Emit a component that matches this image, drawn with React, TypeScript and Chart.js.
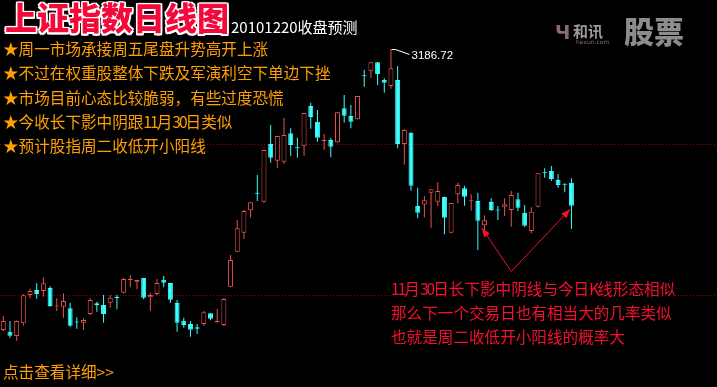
import React, { useEffect, useRef } from "react";
import { Chart, registerables } from "chart.js";
Chart.register(...registerables);

const W = 717;
const H = 387;

// ---- data: Shanghai Composite daily OHLC (last = 2010-12-20) ----
const opens = [
  2591.0, 2587.4, 2578.3, 2605.2, 2665.2, 2675.8, 2673.7, 2680.0, 2640.8, 2640.4,
  2637.0, 2609.0, 2606.5, 2624.9, 2647.6, 2644.0, 2648.9, 2661.6, 2670.1, 2697.0,
  2692.1, 2701.2, 2660.3, 2667.3, 2697.6, 2690.6, 2648.2, 2610.7, 2603.7, 2596.7,
  2603.7, 2626.4, 2608.0, 2601.6, 2682.8, 2757.0, 2797.3, 2844.8, 2881.9, 2863.0,
  2985.3, 2949.9, 2947.8, 3008.0, 2978.5, 2981.7, 3065.9, 3032.6, 2991.0, 2993.8,
  2988.9, 3061.0, 3044.7, 3037.7, 3131.2, 3140.7, 3158.5, 3121.0, 3108.3, 3121.0,
  2985.3, 3009.3, 2853.9, 2857.1, 2882.1, 2863.0, 2873.0, 2797.3, 2878.7, 2891.4,
  2864.1, 2864.5, 2813.0, 2862.4, 2846.5, 2852.4, 2845.4, 2868.1, 2839.7, 2800.9,
  2852.4, 2925.5, 2928.1, 2909.0, 2900.9, 2903.3,
];
const highs = [
  2620.7, 2610.1, 2611.0, 2667.3, 2678.6, 2690.0, 2702.7, 2683.6, 2658.2, 2668.8,
  2648.9, 2617.9, 2615.8, 2658.2, 2651.0, 2665.2, 2664.6, 2665.2, 2701.9, 2707.6,
  2697.5, 2701.5, 2670.1, 2699.1, 2705.5, 2691.0, 2654.6, 2617.1, 2610.1, 2603.7,
  2631.3, 2627.0, 2635.5, 2658.2, 2750.0, 2824.2, 2845.4, 2862.0, 2919.6, 2973.0,
  3025.6, 3003.0, 3041.1, 3018.6, 2998.7, 3051.5, 3072.9, 3057.4, 3006.5, 2998.0,
  3053.0, 3089.2, 3068.0, 3087.5, 3142.2, 3159.0, 3159.0, 3124.6, 3186.72, 3150.7,
  3016.5, 3010.0, 2892.7, 2875.1, 2889.5, 2904.1, 2873.5, 2860.5, 2903.3, 2896.3,
  2878.7, 2882.1, 2834.2, 2870.2, 2853.9, 2870.2, 2885.7, 2882.1, 2856.0, 2851.1,
  2923.5, 2933.8, 2938.7, 2921.1, 2902.0, 2912.6,
];
const lows = [
  2588.9, 2574.7, 2568.3, 2600.1, 2658.2, 2657.4, 2661.6, 2640.4, 2631.3, 2617.1,
  2598.0, 2593.8, 2591.0, 2622.8, 2629.8, 2606.5, 2638.3, 2634.9, 2668.8, 2681.5,
  2677.3, 2656.1, 2631.9, 2664.6, 2681.5, 2648.9, 2587.4, 2595.9, 2576.8, 2582.5,
  2600.1, 2611.6, 2606.5, 2599.5, 2681.5, 2756.4, 2783.9, 2829.1, 2864.5, 2860.9,
  2945.7, 2933.8, 2942.9, 2959.9, 2956.3, 2960.5, 3017.8, 2990.2, 2972.6, 2957.1,
  2988.0, 3030.5, 3018.6, 3037.0, 3106.8, 3124.6, 3110.4, 3094.1, 3102.6, 2976.2,
  2941.4, 2886.3, 2827.8, 2829.5, 2807.9, 2853.9, 2793.9, 2796.7, 2859.6, 2854.5,
  2843.9, 2760.6, 2803.0, 2843.3, 2824.2, 2832.7, 2810.0, 2843.3, 2810.0, 2796.0,
  2851.1, 2913.9, 2906.9, 2892.7, 2882.9, 2805.1,
];
const closes = [
  2610.1, 2578.9, 2610.1, 2664.6, 2673.7, 2667.3, 2690.0, 2641.9, 2642.9, 2652.5,
  2600.1, 2606.9, 2612.2, 2654.6, 2643.4, 2624.9, 2659.5, 2658.8, 2699.1, 2699.1,
  2697.0, 2659.5, 2665.2, 2690.6, 2691.3, 2655.2, 2606.5, 2601.6, 2591.6, 2593.8,
  2628.5, 2615.0, 2610.7, 2656.7, 2739.4, 2806.6, 2843.3, 2861.7, 2879.7, 2972.6,
  2956.3, 3002.3, 3004.4, 2983.2, 2976.4, 3051.0, 3042.6, 2998.7, 2993.8, 2979.6,
  3052.5, 3045.3, 3032.6, 3087.1, 3129.1, 3158.5, 3133.7, 3115.3, 3145.8, 2985.3,
  3015.0, 2896.9, 2839.7, 2866.2, 2889.3, 2885.7, 2829.1, 2860.2, 2898.4, 2873.6,
  2866.2, 2822.7, 2823.6, 2845.4, 2844.3, 2857.5, 2877.2, 2850.3, 2812.1, 2841.8,
  2923.2, 2923.4, 2911.1, 2898.4, 2898.8, 2854.5,
];
const dayIndex = opens.map((_, i) => i);

// reference dotted levels
const levels = [2985, 2665];
// arrow annotation (index, value)
const arrowApex = { i: 76, v: 2715 };
const arrowTips = [
  { i: 71.6, v: 2807 },
  { i: 84.8, v: 2847 },
];

// ---- texts ----
const titleText = "上证指数日线图";
const subtitleText = "20101220收盘预测";
const bullets = [
  "周一市场承接周五尾盘升势高开上涨",
  "不过在权重股整体下跌及军演利空下单边下挫",
  "市场目前心态比较脆弱，有些过度恐慌",
  "今收长下影中阴跟11月30日类似",
  "预计股指周二收低开小阳线",
];
const notes = [
  "11月30日长下影中阴线与今日K线形态相似",
  "那么下一个交易日也有相当大的几率类似",
  "也就是周二收低开小阳线的概率大",
];
const linkText = "点击查看详细>>";

const UP = "#e65252";
const DOWN = "#3cffff";
const ORANGE = "#ffa000";
const NOTE_RED = "#f51030";
const CJK = "'Noto Sans CJK SC', 'Noto Sans', sans-serif";

const overlayPlugin = {
  id: "overlay",
  beforeDatasetsDraw(chart: any) {
    const { ctx, scales } = chart;
    const y = scales.y;
    ctx.save();
    ctx.strokeStyle = "#9a0000";
    ctx.lineWidth = 1;
    ctx.setLineDash([1, 2]);
    levels.forEach((v) => {
      const py = Math.round(y.getPixelForValue(v)) + 0.5;
      ctx.beginPath();
      ctx.moveTo(0, py);
      ctx.lineTo(W, py);
      ctx.stroke();
    });
    ctx.restore();
  },
  afterDatasetsDraw(chart: any) {
    const { ctx, scales } = chart;
    const x = scales.x;
    const y = scales.y;
    ctx.save();
    // peak label
    let pi = 0;
    highs.forEach((h, i) => {
      if (h > highs[pi]) pi = i;
    });
    const px = Math.round(x.getPixelForValue(pi)) + 0.5;
    const py = Math.round(y.getPixelForValue(highs[pi])) + 0.5;
    ctx.strokeStyle = "#ffffff";
    ctx.lineWidth = 1;
    ctx.beginPath();
    ctx.moveTo(px, py);
    ctx.lineTo(px + 4, py);
    ctx.lineTo(px + 18, py + 5);
    ctx.stroke();
    ctx.fillStyle = "#ffffff";
    ctx.font = "11.5px 'Liberation Sans', sans-serif";
    ctx.textBaseline = "middle";
    ctx.fillText(highs[pi].toFixed(2), px + 20, py + 6);

    // arrows
    ctx.strokeStyle = NOTE_RED;
    ctx.fillStyle = NOTE_RED;
    const ax = x.getPixelForValue(arrowApex.i);
    const ay = y.getPixelForValue(arrowApex.v);
    arrowTips.forEach((t) => {
      const tx = x.getPixelForValue(t.i);
      const ty = y.getPixelForValue(t.v);
      ctx.beginPath();
      ctx.moveTo(ax, ay);
      ctx.lineTo(tx, ty);
      ctx.stroke();
      const ang = Math.atan2(ty - ay, tx - ax);
      const len = 9;
      const hw = 3.5;
      const bx = tx - len * Math.cos(ang);
      const by = ty - len * Math.sin(ang);
      ctx.beginPath();
      ctx.moveTo(tx, ty);
      ctx.lineTo(bx + hw * Math.sin(ang), by - hw * Math.cos(ang));
      ctx.lineTo(bx - hw * Math.sin(ang), by + hw * Math.cos(ang));
      ctx.closePath();
      ctx.fill();
    });
    ctx.restore();
  },
};

// narrow ASCII runs so half-width characters match the bitmap font width
function narrow(s: string) {
  const parts = s.split(/([\x21-\x7e]+)/);
  return parts.map((p, i) =>
    /^[\x21-\x7e]+$/.test(p) ? (
      <span key={i} style={{ letterSpacing: "-2px" }}>
        {p}
      </span>
    ) : (
      p
    )
  );
}

function Txt(props: {
  x: number;
  cy: number;
  size: number;
  color: string;
  weight?: number;
  family?: string;
  bg?: string;
  style?: any;
  children: any;
}) {
  const { x, cy, size, color, weight = 400, family = CJK, bg = "#000", style = {} } = props;
  return (
    <div
      style={{
        position: "absolute",
        left: x,
        top: cy - size * 0.566,
        fontSize: size,
        lineHeight: size + "px",
        height: size,
        color,
        fontWeight: weight,
        fontFamily: family,
        whiteSpace: "nowrap",
        background: bg,
        ...style,
      }}
    >
      {props.children}
    </div>
  );
}

export default function App() {
  const ref = useRef<HTMLCanvasElement | null>(null);

  useEffect(() => {
    if (!ref.current) return;
    const isUp = closes.map((c, i) => c >= opens[i]);
    const chart = new Chart(ref.current, {
      type: "bar",
      data: {
        datasets: [
          {
            label: "body",
            data: dayIndex.map((i) => ({ x: i, y: [opens[i], closes[i]] })) as any,
            backgroundColor: isUp.map((u) => (u ? "#000000" : DOWN)),
            borderColor: isUp.map((u) => (u ? UP : DOWN)),
            borderWidth: 1,
            borderSkipped: false,
            barThickness: 5,
            grouped: false,
            inflateAmount: 0,
          } as any,
          {
            label: "wick",
            data: dayIndex.map((i) => ({ x: i, y: [lows[i], highs[i]] })) as any,
            backgroundColor: isUp.map((u) => (u ? UP : DOWN)),
            borderWidth: 0,
            barThickness: 1,
            grouped: false,
            inflateAmount: 0,
          } as any,
        ],
      },
      options: {
        animation: false,
        responsive: false,
        maintainAspectRatio: false,
        layout: { padding: 0 },
        plugins: { legend: { display: false }, tooltip: { enabled: false }, title: { display: false } },
        scales: {
          x: { type: "linear", min: -0.494, max: 106.78, display: false, offset: false },
          y: { type: "linear", min: 2470.16, max: 3290.6, display: false },
        },
      },
      plugins: [overlayPlugin],
    });
    return () => chart.destroy();
  }, []);

  const titleShadow = [
    "0 0 3px #fff",
    "1.5px 0 0 #fff",
    "-1.5px 0 0 #fff",
    "0 1.5px 0 #fff",
    "0 -1.5px 0 #fff",
    "1.5px 1.5px 0 #fff",
    "-1.5px -1.5px 0 #fff",
    "1.5px -1.5px 0 #fff",
    "-1.5px 1.5px 0 #fff",
  ].join(", ");

  return (
    <div
      style={{
        position: "fixed",
        left: 0,
        top: 0,
        width: W,
        height: H,
        background: "#000",
        overflow: "hidden",
      }}
    >
      <canvas ref={ref} width={W} height={H} style={{ position: "absolute", left: 0, top: 0, width: W, height: H }} />

      {/* watermark */}
      <Txt x={555} cy={34} size={19} color="#8a6a6a" weight={700} family="'DejaVu Sans', sans-serif" bg="transparent">
        Ч
      </Txt>
      <Txt x={573} cy={31} size={15} color="#9a9a9a" weight={700} bg="transparent">
        和讯
      </Txt>
      <Txt x={576} cy={42} size={6} color="#8a6a6a" family="'DejaVu Sans', sans-serif" bg="transparent">
        hexun.com
      </Txt>
      <Txt x={624} cy={32} size={30} color="#8c8c8c" weight={900} bg="transparent">
        股票
      </Txt>

      {/* title */}
      <Txt x={5} cy={18} size={32} color="#f5083a" weight={900} bg="transparent" style={{ textShadow: titleShadow }}>
        {titleText}
      </Txt>
      <Txt x={231} cy={27} size={15} color="#ffffff">
        {subtitleText}
      </Txt>

      {bullets.map((b, i) => (
        <Txt key={i} x={3} cy={50 + i * 24.2} size={15.6} color={ORANGE}>
          {narrow("★" + b)}
        </Txt>
      ))}

      {notes.map((n, i) => (
        <Txt key={i} x={391} cy={290 + i * 23.7} size={15.6} color={NOTE_RED}>
          {narrow(n)}
        </Txt>
      ))}

      <Txt x={3} cy={372.5} size={15.6} color={ORANGE}>
        {linkText}
      </Txt>
    </div>
  );
}
